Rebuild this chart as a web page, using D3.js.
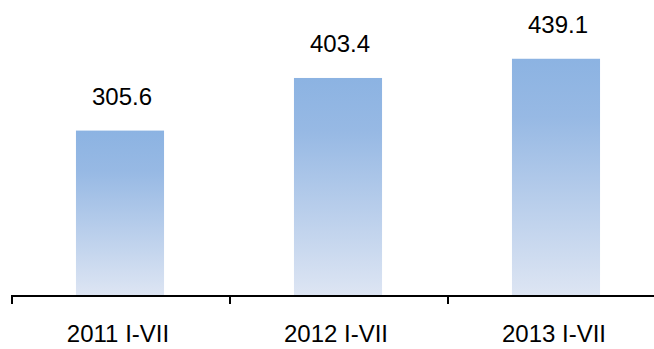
<!DOCTYPE html>
<html>
<head>
<meta charset="utf-8">
<script src="https://cdn.jsdelivr.net/npm/d3@7"></script>
<style>
    body { margin: 0; background: #fff; }
    svg { display: block; }
    text { font-family: "Liberation Sans", Arial, sans-serif; fill: #000; }
</style>
</head>
<body>
<div id="chart"></div>
<script>
const categories = ["2011 I-VII", "2012 I-VII", "2013 I-VII"];
const values = [305.6, 403.4, 439.1];
const valueLabels = ["305.6", "403.4", "439.1"];

const width = 654;
const height = 349;

const svg = d3.select("#chart")
    .append("svg")
    .attr("width", width)
    .attr("height", height);

const defs = svg.append("defs");
const grad = defs.append("linearGradient")
    .attr("id", "barGrad")
    .attr("x1", 0).attr("y1", 0)
    .attr("x2", 0).attr("y2", 1);
grad.append("stop").attr("offset", "0%").attr("stop-color", "#8cb3e2");
grad.append("stop").attr("offset", "25%").attr("stop-color", "#97b9e4");
grad.append("stop").attr("offset", "100%").attr("stop-color", "#dde5f3");

const p = 0.596;
const x = d3.scaleBand()
    .domain(categories)
    .range([11, 665])
    .paddingInner(p)
    .paddingOuter(p / 2);

const y = d3.scaleLinear()
    .domain([0, 500])
    .range([295, 26]);

// bars
svg.append("g")
    .selectAll("rect")
    .data(values)
    .enter()
    .append("rect")
    .attr("x", (d, i) => x(categories[i]))
    .attr("y", d => y(d))
    .attr("width", x.bandwidth())
    .attr("height", d => y(0) - y(d))
    .attr("fill", "url(#barGrad)");

// value labels
svg.append("g")
    .selectAll("text")
    .data(values)
    .enter()
    .append("text")
    .attr("x", (d, i) => x(categories[i]) + x.bandwidth() / 2 + 2)
    .attr("y", d => y(d) - 26)
    .attr("text-anchor", "middle")
    .style("font-size", "24px")
    .text((d, i) => valueLabels[i]);

// axis line + ticks at slot boundaries
const step = x.step();
const axisY = 296;
svg.append("line")
    .attr("x1", 11).attr("x2", width)
    .attr("y1", axisY).attr("y2", axisY)
    .attr("stroke", "#000")
    .attr("stroke-width", 2);

const bounds = categories.map(c => x(c) - step * p / 2);
svg.append("g")
    .selectAll("line")
    .data(bounds)
    .enter()
    .append("line")
    .attr("x1", d => d + 1).attr("x2", d => d + 1)
    .attr("y1", axisY).attr("y2", axisY + 8)
    .attr("stroke", "#000")
    .attr("stroke-width", 2);

// category labels
svg.append("g")
    .selectAll("text")
    .data(categories)
    .enter()
    .append("text")
    .attr("x", d => x(d) + x.bandwidth() / 2 - 2)
    .attr("y", 342)
    .attr("text-anchor", "middle")
    .style("font-size", "24px")
    .text(d => d);
</script>
</body>
</html>
